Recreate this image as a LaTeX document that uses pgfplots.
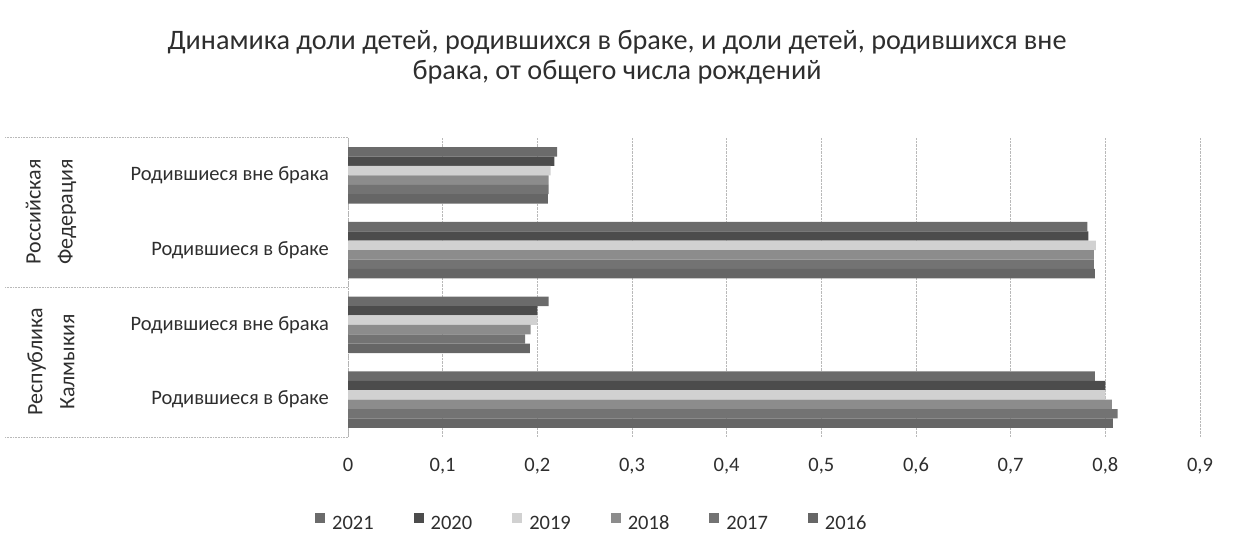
\documentclass[border=0pt]{standalone}
\usepackage{pgfplots}
\usepackage{pgfplotstable}
\pgfplotsset{compat=1.18}
\usepackage{fontspec}
\setmainfont{Carlito}
\definecolor{c21}{gray}{0.42}
\definecolor{c20}{gray}{0.30}
\definecolor{c19}{gray}{0.82}
\definecolor{c18}{gray}{0.55}
\definecolor{c17}{gray}{0.45}
\definecolor{c16}{gray}{0.40}
\definecolor{txt}{gray}{0.18}
\pgfplotstableread{
y y21 y20 y19 y18 y17 y16
0 0.221 0.218 0.214 0.212 0.212 0.211
1 0.781 0.782 0.790 0.788 0.788 0.789
2 0.212 0.200 0.200 0.193 0.187 0.192
3 0.789 0.800 0.800 0.807 0.813 0.808
}\datatable
\begin{document}
\begin{tikzpicture}
\useasboundingbox (0,0) rectangle (1233pt,550pt);
\begin{axis}[
  at={(348pt,113pt)}, anchor=south west,
  width=852pt, height=299pt, scale only axis,
  xmin=0, xmax=0.9, ymin=-0.5, ymax=3.5,
  y dir=reverse,
  xtick distance=0.1,
  /pgf/number format/use comma,
  /pgf/number format/fixed,
  /pgf/number format/precision=1,
  /pgf/number format/assume math mode=true,
  ytick={0,1,2,3},
  yticklabels={Родившиеся вне брака, Родившиеся в браке, Родившиеся вне брака, Родившиеся в браке},
  major tick length=0pt,
  tick label style={font=\fontsize{20.5}{24}\selectfont, text=txt},
  x tick label style={anchor=base, inner sep=0pt, yshift=-34pt},
  y tick label style={anchor=east, inner sep=0pt, xshift=-19pt},
  xmajorgrids, grid style={gray!55, densely dotted, line width=0.6pt},
  axis x line*=bottom, axis y line*=left,
  x axis line style={draw=none},
  y axis line style={gray!60, densely dotted, line width=0.7pt},
  xbar, bar width=0.126,
  legend columns=6,
  legend style={at={(0.285,-0.284)}, anchor=center, draw=none, fill=none,
    font=\fontsize{20.5}{24}\selectfont, text=txt,
    nodes={text height=13pt, text depth=2pt, inner sep=0pt},
    /tikz/every odd column/.append style={column sep=7pt},
    /tikz/every even column/.append style={column sep=40pt}},
  legend image code/.code={\fill[#1] (0pt,1pt) rectangle (10pt,11pt);},
]
\addplot[fill=c21, draw=none, bar shift=-0.315] table[x=y21, y=y] {\datatable};
\addplot[fill=c20, draw=none, bar shift=-0.189] table[x=y20, y=y] {\datatable};
\addplot[fill=c19, draw=none, bar shift=-0.063] table[x=y19, y=y] {\datatable};
\addplot[fill=c18, draw=none, bar shift=0.063] table[x=y18, y=y] {\datatable};
\addplot[fill=c17, draw=none, bar shift=0.189] table[x=y17, y=y] {\datatable};
\addplot[fill=c16, draw=none, bar shift=0.315] table[x=y16, y=y] {\datatable};
\legend{2021, 2020, 2019, 2018, 2017, 2016}
\end{axis}
\draw[gray!55, densely dotted, line width=0.6pt] (5pt,413pt) -- (348pt,413pt);
\draw[gray!55, densely dotted, line width=0.6pt] (5pt,263pt) -- (348pt,263pt);
\draw[gray!55, densely dotted, line width=0.6pt] (5pt,113pt) -- (348pt,113pt);
\node[rotate=90, align=center, text=txt, font=\fontsize{22}{32}\selectfont] at (51pt,338pt) {Российская\\Федерация};
\node[rotate=90, align=center, text=txt, font=\fontsize{22}{32}\selectfont] at (51pt,188pt) {Республика\\Калмыкия};
\node[align=center, text=txt, font=\fontsize{28.2}{30}\selectfont] at (617pt,493pt) {Динамика доли детей, родившихся в браке, и доли детей, родившихся вне\\брака, от общего числа рождений};
\end{tikzpicture}
\end{document}
